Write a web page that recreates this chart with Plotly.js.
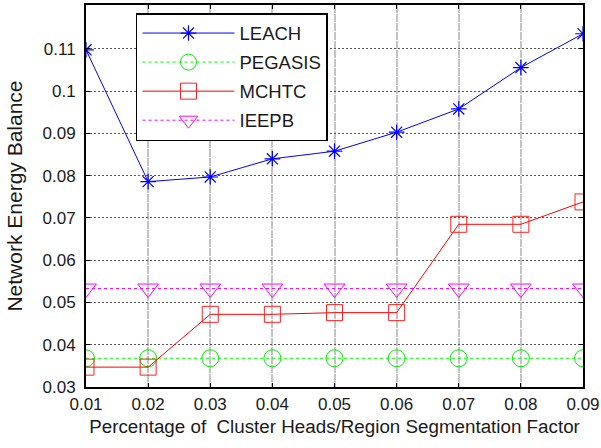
<!DOCTYPE html>
<html>
<head>
<meta charset="utf-8">
<script src="https://cdn.plot.ly/plotly-3.0.1.min.js"></script>
<style>html,body{margin:0;padding:0;background:#fff;}#chart{width:601px;height:448px;}</style>
</head>
<body>
<div id="chart"></div>
<script>
var xValues = [0.01, 0.02, 0.03, 0.04, 0.05, 0.06, 0.07, 0.08, 0.09];
var xTickLabels = ['0.01', '0.02', '0.03', '0.04', '0.05', '0.06', '0.07', '0.08', '0.09'];
var yTickVals = [0.03, 0.04, 0.05, 0.06, 0.07, 0.08, 0.09, 0.10, 0.11];
var yTickLabels = ['0.03', '0.04', '0.05', '0.06', '0.07', '0.08', '0.09', '0.1', '0.11'];

var leach   = [0.1098, 0.0786, 0.0797, 0.0840, 0.0858, 0.0903, 0.0958, 0.1056, 0.1136];
var pegasis = [0.0368, 0.0368, 0.0368, 0.0368, 0.0368, 0.0368, 0.0368, 0.0368, 0.0368];
var mchtc   = [0.0347, 0.0347, 0.0472, 0.0472, 0.0476, 0.0476, 0.0685, 0.0685, 0.0738];
var ieepb   = [0.0533, 0.0533, 0.0533, 0.0533, 0.0533, 0.0533, 0.0533, 0.0533, 0.0533];

var traces = [
  {x: xValues, y: leach, name: 'LEACH', legendgroup: 'a', mode: 'lines+markers',
   line: {color: '#0000ff', width: 1},
   marker: {symbol: 'asterisk-open', size: 13, color: '#0000ff', line: {color: '#0000ff', width: 1.2}}},
  {x: xValues, y: pegasis, name: 'PEGASIS', legendgroup: 'b', mode: 'lines+markers',
   line: {color: '#00ff00', width: 1, dash: 'dot'},
   marker: {symbol: 'circle-open', size: 17, color: '#00ee00', line: {color: '#00ee00', width: 1}}},
  {x: xValues, y: mchtc, name: 'MCHTC', legendgroup: 'c', mode: 'lines+markers',
   line: {color: '#ff0000', width: 1},
   marker: {symbol: 'square-open', size: 16, color: '#ff2020', line: {color: '#ff2020', width: 1}}},
  {x: xValues, y: ieepb, name: 'IEEPB', legendgroup: 'd', mode: 'lines+markers',
   line: {color: '#ff00ff', width: 1, dash: 'dot'},
   marker: {symbol: 'triangle-down-open', size: 18, color: '#ff00ff', line: {color: '#ff00ff', width: 1}}}
];

var layout = {
  width: 601, height: 448,
  margin: {l: 86, r: 18, t: 5, b: 61, pad: 0},
  paper_bgcolor: '#ffffff', plot_bgcolor: '#ffffff',
  font: {family: 'Liberation Sans, Arial, sans-serif', color: '#1a1a1a', size: 16},
  showlegend: true,
  legend: {
    x: 0.1006, y: 0.979, xanchor: 'left', yanchor: 'top',
    bgcolor: '#ffffff', bordercolor: '#000000', borderwidth: 1.5,
    font: {size: 18.5, family: 'Liberation Sans, Arial, sans-serif', color: '#1a1a1a'},
    itemwidth: 92, traceorder: 'grouped', tracegroupgap: 2
  },
  xaxis: {
    range: [0.01, 0.09], tickvals: xValues, ticktext: xTickLabels,
    showline: true, linecolor: '#000000', linewidth: 2, mirror: 'ticks',
    ticks: 'inside', ticklen: 4, tickcolor: '#000000', tickwidth: 1,
    ticklabelstandoff: 1,
    showgrid: true, gridcolor: '#c4c4c4', gridwidth: 2, griddash: '8px,1px',
    zeroline: false,
    tickfont: {size: 17},
    title: {text: 'Percentage of&nbsp; Cluster Heads/Region Segmentation Factor', font: {size: 18.8}, standoff: 6}
  },
  yaxis: {
    range: [0.03, 0.1204], tickvals: yTickVals, ticktext: yTickLabels,
    showline: true, linecolor: '#000000', linewidth: 2, mirror: 'ticks',
    ticks: 'inside', ticklen: 4, tickcolor: '#000000', tickwidth: 1,
    ticklabelstandoff: 5,
    showgrid: true, gridcolor: '#555555', gridwidth: 1, griddash: '2px,2px',
    zeroline: false,
    tickfont: {size: 17},
    title: {text: 'Network Energy Balance', font: {size: 21}, standoff: 14}
  }
};

Plotly.newPlot('chart', traces, layout, {staticPlot: true, displayModeBar: false});
</script>
</body>
</html>
